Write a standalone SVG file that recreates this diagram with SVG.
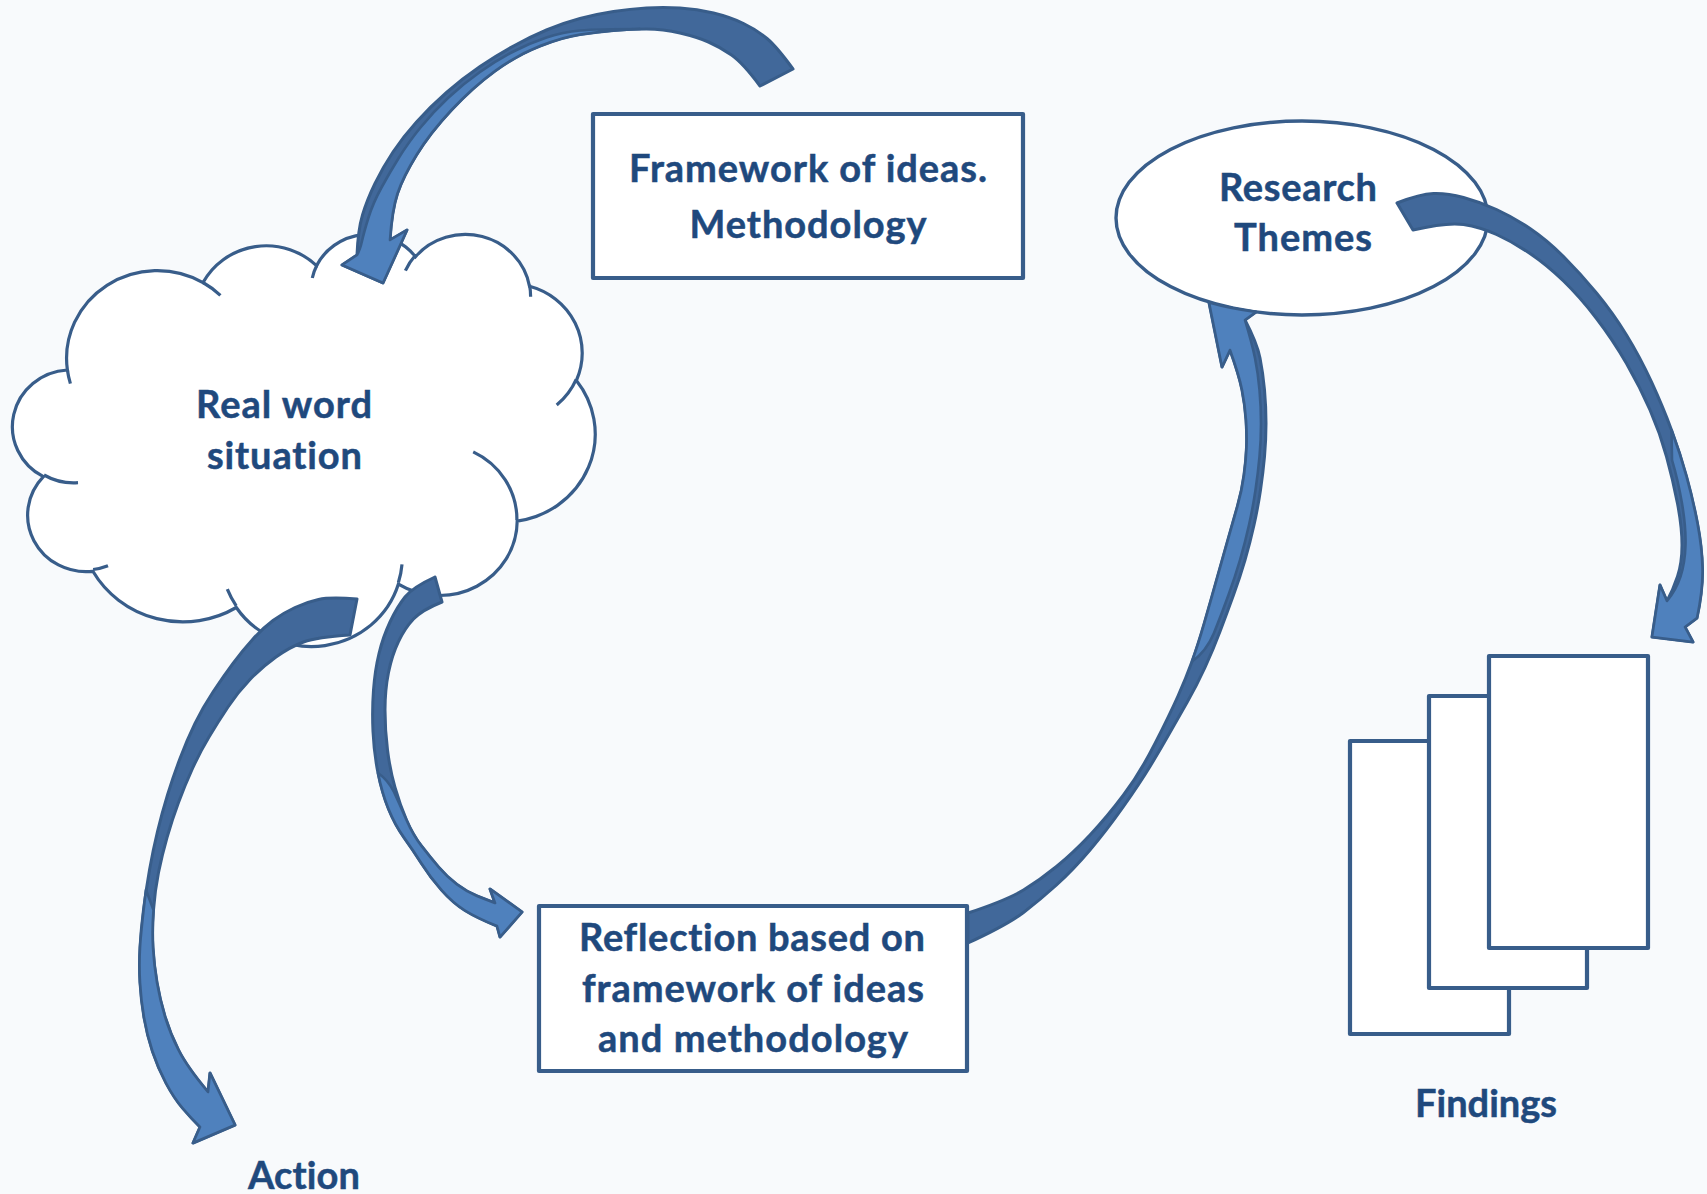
<svg xmlns="http://www.w3.org/2000/svg" width="1707" height="1194" viewBox="0 0 1707 1194">
<style>
.bg{fill:#F8FAFC}
.box{fill:#FFFFFF;stroke:#385D8A;stroke-width:4.2;stroke-linejoin:round}
.cloud{fill:#FFFFFF;stroke:#385D8A;stroke-width:3.2}
.cin{fill:none;stroke:#385D8A;stroke-width:3.2}
.ell{fill:#FFFFFF;stroke:#385D8A;stroke-width:3.4}
.ad{fill:#41689A;stroke:#385D8A;stroke-width:3;stroke-linejoin:round}
.al{fill:#4F81BD;stroke:#385D8A;stroke-width:2.6;stroke-linejoin:round}
.t{font-family:Lato,"Open Sans","Liberation Sans",sans-serif;font-weight:700;font-size:38px;fill:#1F497D;stroke:#1F497D;stroke-width:0.5;text-anchor:middle;font-variant-ligatures:none}
</style>
<rect class="bg" x="0" y="0" width="1707" height="1194"/>

<g id="real-word-situation">
<path class="cloud" d="M67.4,370.0 A90.67,87.65 0 0 1 203.0,282.6 A71.6,69.31 0 0 1 316.5,265.7 A58.6,56.7 0 0 1 415.5,256.7 A65.21,62.9 0 0 1 529.5,286.2 A71.6,69.36 0 0 1 576.4,380.5 A90.96,87.93 0 0 1 517.2,521.1 A77.67,75.03 0 0 1 398.4,584.1 A90.65,87.88 0 0 1 236.3,607.5 A103.65,100.55 0 0 1 92.9,571.3 A58.54,56.44 0 0 1 43.4,476.7 A58.34,56.7 0 0 1 67.4,370.0 Z"/>
<path class="cin" d="M78.0,482.7 A58.34,56.7 0 0 1 44.0,475.0 M108.0,565.8 A58.54,56.44 0 0 1 93.1,569.5 M236.2,605.8 A90.65,87.88 0 0 1 227.3,589.2 M402.0,564.4 A90.65,87.88 0 0 1 398.4,582.6 M473.2,451.9 A77.67,75.03 0 0 1 516.9,520.0 M576.2,379.4 A71.6,69.36 0 0 1 556.7,405.0 M529.5,284.7 A65.21,62.9 0 0 1 530.6,296.8 M405.4,270.7 A65.21,62.9 0 0 1 415.4,255.3 M312.3,278.0 A58.6,56.7 0 0 1 317.1,264.8 M203.0,282.5 A90.67,87.65 0 0 1 220.4,295.4 M70.4,383.6 A90.67,87.65 0 0 1 67.4,370.0"/>
<text class="t" x="284" y="418" textLength="176">Real word</text>
<text class="t" x="284.5" y="469" textLength="155">situation</text>
</g>

<g id="framework">
<rect class="box" x="593" y="114" width="430" height="164"/>
<text class="t" x="808" y="182" textLength="358">Framework of ideas.</text>
<text class="t" x="808" y="238" textLength="237">Methodology</text>
</g>

<g id="reflection">
<rect class="box" x="539" y="906" width="428" height="165"/>
<text class="t" x="752" y="951" textLength="346">Reflection based on</text>
<text class="t" x="753" y="1002" textLength="342">framework of ideas</text>
<text class="t" x="753" y="1052" textLength="310">and methodology</text>
</g>

<g id="research-themes">
<ellipse class="ell" cx="1302" cy="218" rx="186" ry="97"/>
<text class="t" x="1298" y="201" textLength="158">Research</text>
<text class="t" x="1303" y="251" textLength="138">Themes</text>
</g>

<g id="findings">
<rect class="box" x="1350" y="741" width="159" height="293"/>
<rect class="box" x="1429" y="696" width="158" height="292"/>
<rect class="box" x="1489" y="656" width="159" height="292"/>
<text class="t" x="1486" y="1117" textLength="142">Findings</text>
</g>

<g id="action">
<text class="t" x="304" y="1189" textLength="112">Action</text>
</g>

<g id="connectors">
<g id="arrow-framework-to-cloud">
<path class="ad" d="M793,69 Q777,47 767,38.5 Q757,30 743.5,23.5 Q730,17 713.5,13 Q697,9 680,8 Q663,7 646.5,8 Q630,9 613.5,11.5 Q597,14 580,18.5 Q563,23 546.5,30 Q530,37 513.5,46 Q497,55 480,66.5 Q463,78 446.5,92.5 Q430,107 416.5,122 Q403,137 393,152 Q383,167 375,183.5 Q367,200 362.5,215 Q358,230 357,255 L342,265 L383,283 L407,230 L390,240 Q392,210 397.5,193.5 Q403,177 416.5,155 Q430,133 451.5,110 Q473,87 495,71 Q517,55 540,46 Q563,37 580,34.5 Q597,32 613.5,30.5 Q630,29 646.5,29 Q663,29 680,33 Q697,37 708.5,42 Q720,47 731.5,55 Q743,63 760,86 Z"/>
<path class="al" d="M640,29 Q597,29 580,30.5 Q563,32 546.5,37.5 Q530,43 513.5,51.5 Q497,60 480,72 Q463,84 448,98 Q433,112 420.5,127.5 Q408,143 399,157.5 Q390,172 381.5,187.5 Q373,203 368.5,217.5 Q364,232 362,241 Q360,250 357,255 L342,265 L383,283 L407,230 L390,240 Q392,210 397.5,193.5 Q403,177 416.5,155 Q430,133 451.5,110 Q473,87 495,71 Q517,55 540,46 Q563,37 580,34.5 Q597,32 613.5,30.5 Z"/>
</g>
<g id="arrow-cloud-to-action">
<path class="ad" d="M357,599 Q330,597 318.5,599.5 Q307,602 295,607.5 Q283,613 273,620.5 Q263,628 253,639 Q243,650 233,663.5 Q223,677 213,692 Q203,707 195,723.5 Q187,740 180,758.5 Q173,777 167.5,795 Q162,813 157.5,831.5 Q153,850 149.5,870 Q146,890 143.5,910 Q141,930 140,947.5 Q139,965 140,982.5 Q141,1000 144,1017.5 Q147,1035 152.5,1051.5 Q158,1068 166,1083 Q174,1098 182.5,1108 Q191,1118 200,1127 L193,1143 L235,1125 L210,1073 L208,1092 Q187,1067 178.5,1050 Q170,1033 165,1016.5 Q160,1000 157,982.5 Q154,965 153,947.5 Q152,930 153.5,910 Q155,890 158.5,872.5 Q162,855 167,837.5 Q172,820 178.5,802.5 Q185,785 192.5,768.5 Q200,752 209,737 Q218,722 228,707 Q238,692 250,679.5 Q262,667 276,657 Q290,647 303.5,642 Q317,637 350,635 Z"/>
<path class="al" d="M146,890 Q141,930 140,947.5 Q139,965 140,982.5 Q141,1000 144,1017.5 Q147,1035 152.5,1051.5 Q158,1068 166,1083 Q174,1098 182.5,1108 Q191,1118 200,1127 L193,1143 L235,1125 L210,1073 L208,1092 Q187,1067 178.5,1050 Q170,1033 165,1016.5 Q160,1000 157,982.5 Q154,965 153,947.5 Q152,930 153.5,910 Z"/>
</g>
<g id="arrow-cloud-to-reflection">
<path class="ad" d="M435,577 Q413,587 405,597 Q397,607 390,622 Q383,637 379,653.5 Q375,670 373.5,690 Q372,710 373,731.5 Q374,753 378,773 Q382,793 388.5,809 Q395,825 404,837.5 Q413,850 421.5,863.5 Q430,877 441.5,890 Q453,903 465,910.5 Q477,918 497,926 L500,937 L522,912 L490,889 L495,903 Q487,900 477,896 Q467,892 457,884.5 Q447,877 438.5,867 Q430,857 421.5,846 Q413,835 406.5,820 Q400,805 395,787.5 Q390,770 387.5,750 Q385,730 385,710 Q385,690 388.5,672.5 Q392,655 398.5,641.5 Q405,628 413.5,619 Q422,610 442,602 Z"/>
<path class="al" d="M378,773 Q382,793 388.5,809 Q395,825 404,837.5 Q413,850 421.5,863.5 Q430,877 441.5,890 Q453,903 465,910.5 Q477,918 497,926 L500,937 L522,912 L490,889 L495,903 Q487,900 477,896 Q467,892 457,884.5 Q447,877 438.5,867 Q430,857 421.5,846 Q413,835 406.5,820 Q400,805 394,792 Q388,780 378,773 Z"/>
</g>
<g id="arrow-reflection-to-themes">
<path class="ad" d="M968,913 Q1007,900 1023.5,890 Q1040,880 1056.5,866.5 Q1073,853 1090,835 Q1107,817 1123.5,795 Q1140,773 1155,743.5 Q1170,714 1178,696 Q1186,678 1192,661.5 Q1198,645 1204.5,622.5 Q1211,600 1217,578.5 Q1223,557 1228,539.5 Q1233,522 1237.5,506 Q1242,490 1244,475 Q1246,460 1246.5,447.5 Q1247,435 1246,420 Q1245,405 1242,390 Q1239,375 1230,350 L1222,367 L1209,302.6 A186,97 0 0 0 1256,312 L1245,320 Q1257,343 1260,358 Q1263,373 1264.5,390 Q1266,407 1266,423.5 Q1266,440 1264.5,456.5 Q1263,473 1260.5,490 Q1258,507 1254,525 Q1250,543 1245,560 Q1240,577 1233.5,595 Q1227,613 1220,631.5 Q1213,650 1205,667.5 Q1197,685 1187,702.5 Q1177,720 1168.5,735 Q1160,750 1150,766.5 Q1140,783 1123.5,806.5 Q1107,830 1090,850 Q1073,870 1056.5,885 Q1040,900 1023.5,912.5 Q1007,925 968,943 Z"/>
<path class="al" d="M1192,661.5 Q1198,645 1204.5,622.5 Q1211,600 1217,578.5 Q1223,557 1228,539.5 Q1233,522 1237.5,506 Q1242,490 1244,475 Q1246,460 1246.5,447.5 Q1247,435 1246,420 Q1245,405 1242,390 Q1239,375 1230,350 L1222,367 L1209,302.6 A186,97 0 0 0 1256,312 L1245,320 Q1252,343 1255,358 Q1258,373 1259.5,390 Q1261,407 1261,423.5 Q1261,440 1259.5,456.5 Q1258,473 1255.5,490 Q1253,507 1249,525 Q1245,543 1240,560 Q1235,577 1228.5,595 Q1222,613 1214,633 Q1206,652 1192,661.5 Z"/>
</g>
<g id="arrow-themes-to-findings">
<path class="ad" d="M1397,203 Q1420,194 1433.5,193.5 Q1447,193 1463.5,197.5 Q1480,202 1496.5,209.5 Q1513,217 1530,228.5 Q1547,240 1563.5,256.5 Q1580,273 1596.5,293 Q1613,313 1626.5,335 Q1640,357 1651.5,382 Q1663,407 1671.5,430 Q1680,453 1686.5,476.5 Q1693,500 1697.5,523.5 Q1702,547 1702.5,568.5 Q1703,590 1697,618 L1685,627 L1693,642 L1652,637 L1660,585 L1667,601 Q1673,590 1677.5,576.5 Q1682,563 1682,545 Q1682,527 1677.5,503.5 Q1673,480 1666.5,456.5 Q1660,433 1650,410 Q1640,387 1626.5,363.5 Q1613,340 1596.5,318.5 Q1580,297 1563.5,281 Q1547,265 1530,253.5 Q1513,242 1496.5,234.5 Q1480,227 1463.5,224.5 Q1447,222 1413,230 Z"/>
<path class="al" d="M1671.5,430 Q1680,453 1686.5,476.5 Q1693,500 1697.5,523.5 Q1702,547 1702.5,568.5 Q1703,590 1697,618 L1685,627 L1693,642 L1652,637 L1660,585 L1667,601 Q1676,590 1680.5,576.5 Q1685,563 1685.5,545 Q1686,527 1682,503.5 Q1678,480 1672,460 Z"/>
</g>
</g>
</svg>
